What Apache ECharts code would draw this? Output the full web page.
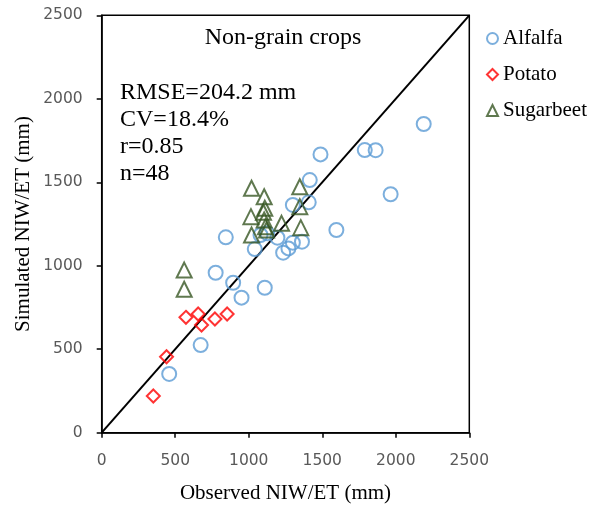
<!DOCTYPE html>
<html><head><meta charset="utf-8">
<script src="https://cdn.jsdelivr.net/npm/echarts@6/dist/echarts.min.js"></script>
<style>html,body{margin:0;padding:0;background:#fff}#c{width:601px;height:510px}</style>
</head><body><div id="c"></div>
<script>
const alfalfa = [[2190,1849],[1789,1693],[1863,1692],[1488,1667],[1965,1428],[1415,1513],[1408,1380],[1596,1214],[1300,1364],[844,1170],[1041,1100],[775,958],[894,898],[951,809],[1109,868],[673,525],[459,352],[1195,1168],[1234,1078],[1270,1104],[1300,1138],[1362,1144],[1080,1184],[1125,1195]];
const potato = [[351,220],[441,455],[573,691],[656,711],[679,645],[770,681],[853,711]];
const sugarbeet = [[561,974],[561,859],[1019,1464],[1105,1413],[1109,1344],[1015,1294],[1105,1274],[1114,1234],[1019,1184],[1121,1214],[1223,1254],[1347,1473],[1347,1354],[1354,1228],[1100,1320]];
const oneToOne = [[0,0],[2500,2500]];
const tickValues = [0,500,1000,1500,2000,2500];
const statLines = ['RMSE=204.2 mm','CV=18.4%','r=0.85','n=48'];
const panelTitle = 'Non-grain crops';

const chart = echarts.init(document.getElementById('c'), null, {renderer:'canvas'});
const serif = '"Liberation Serif","Times New Roman",serif';
const tickFont = {fontFamily:'"DejaVu Sans"', fontSize:15.5, color:'#595959', formatter:v=>String(v)};
const axisCommon = {
  type:'value', min:tickValues[0], max:tickValues[tickValues.length-1], interval:tickValues[1]-tickValues[0],
  nameLocation:'middle', nameMoveOverlap:false,
  nameTextStyle:{fontFamily:serif, fontSize:21, color:'#000'},
  axisLine:{show:true, onZero:false, lineStyle:{color:'#000', width:1.5}},
  axisTick:{show:true, inside:false, length:5, lineStyle:{color:'#000', width:1.5}},
  splitLine:{show:false}
};
chart.setOption({
  animation:false,
  grid:{left:101.7, right:131.7, top:15.3, bottom:77.3, containLabel:false, outerBoundsMode:'none',
    show:true, borderColor:'#000', borderWidth:1.5, backgroundColor:'transparent'},
  xAxis:Object.assign({}, axisCommon, {name:'Observed NIW/ET (mm)', nameGap:50,
    axisLabel:Object.assign({margin:20}, tickFont)}),
  yAxis:Object.assign({}, axisCommon, {name:'Simulated NIW/ET (mm)', nameGap:68,
    axisLabel:Object.assign({margin:19}, tickFont)}),
  legend:{orient:'vertical', left:481, top:23, itemGap:15, itemWidth:11, itemHeight:11,
    textStyle:{fontFamily:serif, fontSize:21, color:'#000'},
    data:['Alfalfa','Potato','Sugarbeet']},
  graphic:[
    {type:'text', x:283, y:26, style:{text:panelTitle, font:'24px '+serif, fill:'#000', textAlign:'center'}},
    {type:'text', x:120, y:79, style:{text:statLines.join('\n'), font:'24px '+serif, fill:'#000', lineHeight:27}}
  ],
  series:[
    {type:'line', data:oneToOne, symbol:'none', lineStyle:{color:'#000', width:2}, silent:true, z:1},
    {name:'Alfalfa', type:'scatter', data:alfalfa, symbol:'circle', symbolSize:14,
      itemStyle:{color:'rgba(0,0,0,0)', borderColor:'#5B9BD5', borderWidth:2}, z:3},
    {name:'Potato', type:'scatter', data:potato, symbol:'diamond', symbolSize:13,
      itemStyle:{color:'rgba(0,0,0,0)', borderColor:'#FF0000', borderWidth:2}, z:4},
    {name:'Sugarbeet', type:'scatter', data:sugarbeet, symbol:'triangle', symbolSize:15,
      itemStyle:{color:'rgba(0,0,0,0)', borderColor:'#375623', borderWidth:2}, z:5}
  ]
});
</script></body></html>
